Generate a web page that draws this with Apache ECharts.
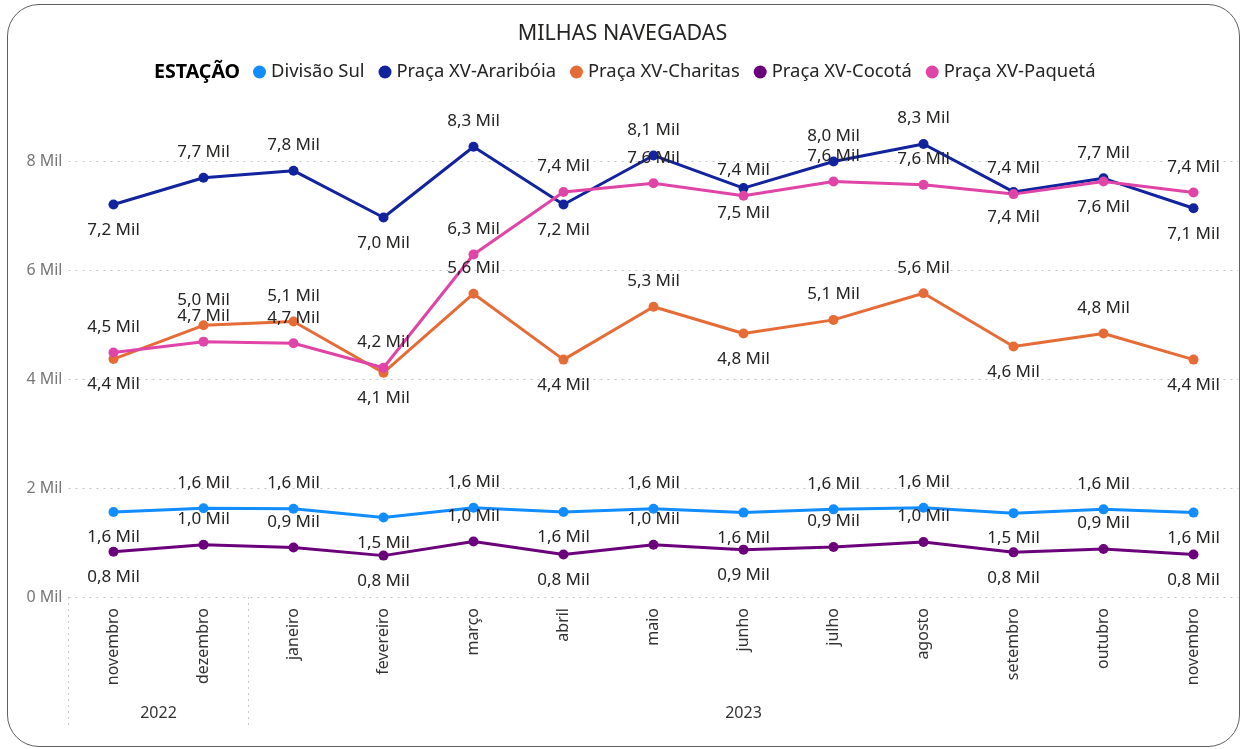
<!DOCTYPE html>
<html>
<head>
<meta charset="utf-8">
<script src="https://cdn.jsdelivr.net/npm/echarts@6/dist/echarts.min.js"></script>
<style>
  html, body { margin: 0; padding: 0; background: #fff; }
  #chart { position: absolute; left: 0; top: 0; width: 1245px; height: 749px; }
  #frame {
    position: absolute; left: 7px; top: 4px; width: 1233px; height: 743px;
    box-sizing: border-box; border: 1.5px solid #5f5f5f; border-radius: 32px; pointer-events: none;
  }
</style>
</head>
<body>
<div id="chart"></div>
<div id="frame"></div>
<script>
const MONTHS = ["novembro", "dezembro", "janeiro", "fevereiro", "março", "abril", "maio",
  "junho", "julho", "agosto", "setembro", "outubro", "novembro"];

// year band: 27 half-steps from the left edge to the right edge of the month axis
const YEAR_LABELS = ["", "", "2022", "", "", "", "", "", "", "", "", "", "", "", "", "2023",
  "", "", "", "", "", "", "", "", "", "", ""];
const YEAR_BREAKS = [0, 4];

const Y_TICKS = [0, 2, 4, 6, 8];

const DIVISAO_SUL = [1.56, 1.63, 1.62, 1.46, 1.64, 1.56, 1.62, 1.55, 1.61, 1.64, 1.54, 1.61, 1.55];
const ARARIBOIA = [7.21, 7.70, 7.83, 6.97, 8.27, 7.21, 8.11, 7.51, 8.00, 8.32, 7.44, 7.69, 7.14];
const CHARITAS = [4.37, 4.99, 5.06, 4.12, 5.57, 4.36, 5.33, 4.84, 5.09, 5.58, 4.60, 4.84, 4.36];
const COCOTA = [0.83, 0.96, 0.91, 0.76, 1.02, 0.78, 0.96, 0.87, 0.92, 1.01, 0.82, 0.88, 0.78];
const PAQUETA = [4.49, 4.69, 4.66, 4.21, 6.29, 7.44, 7.60, 7.37, 7.63, 7.57, 7.40, 7.63, 7.43];

// which side of the point each data label sits on (t = above, b = below)
const SIDE_COMMON = ["b", "t", "t", "b", "t", "b", "t", "b", "t", "t", "b", "t", "b"];
const SIDE_PAQUETA = ["t", "t", "t", "t", "t", "t", "t", "t", "t", "t", "t", "b", "t"];

const STATIONS = [
  { name: "Divisão Sul", values: DIVISAO_SUL, side: SIDE_COMMON, color: "#118DFF" },
  { name: "Praça XV-Araribóia", values: ARARIBOIA, side: SIDE_COMMON, color: "#12239E" },
  { name: "Praça XV-Charitas", values: CHARITAS, side: SIDE_COMMON, color: "#E66C37" },
  { name: "Praça XV-Cocotá", values: COCOTA, side: SIDE_COMMON, color: "#6B007B" },
  { name: "Praça XV-Paquetá", values: PAQUETA, side: SIDE_PAQUETA, color: "#E044A7" }
];

const FONT = "Noto Sans";

function fmtMil(v) {
  return v.toFixed(1).replace(".", ",") + " Mil";
}

const chart = echarts.init(document.getElementById("chart"), null, { renderer: "canvas" });

const series = STATIONS.map(st => ({
  name: st.name,
  type: "line",
  symbol: "circle",
  symbolSize: 10,
  color: st.color,
  lineStyle: { width: 3, color: st.color },
  itemStyle: { color: st.color },
  data: st.values.map((v, i) => ({
    value: v,
    label: { position: st.side[i] === "t" ? "top" : "bottom" }
  })),
  label: {
    show: true,
    distance: 12,
    fontFamily: FONT,
    fontSize: 17,
    color: "#252423",
    formatter: p => fmtMil(p.value)
  },
  labelLayout: { hideOverlap: false },
  emphasis: { disabled: true },
  animation: false
}));

const gridColors = Y_TICKS.map(() => "#c4c4c4").concat(["rgba(0,0,0,0)"]);

const option = {
  backgroundColor: "#ffffff",
  animation: false,
  title: [
    {
      text: "MILHAS NAVEGADAS",
      left: "center",
      top: 18,
      textStyle: { fontFamily: FONT, fontSize: 21.5, fontWeight: "normal", color: "#252423" }
    },
    {
      text: "ESTAÇÃO",
      left: 149,
      top: 57,
      textStyle: { fontFamily: FONT, fontSize: 19.6, fontWeight: "bold", color: "#000000" }
    }
  ],
  legend: {
    left: 253,
    top: 63,
    padding: 0,
    icon: "circle",
    itemWidth: 13,
    itemHeight: 13,
    itemGap: 14,
    textStyle: { fontFamily: FONT, fontSize: 18.4, color: "#252423" },
    data: STATIONS.map(s => s.name)
  },
  grid: { left: 68.5, right: 6.5, top: 107, bottom: 152, containLabel: false },
  xAxis: [
    {
      type: "category",
      data: MONTHS,
      boundaryGap: true,
      axisLine: { show: false },
      axisTick: { show: false },
      axisLabel: {
        interval: 0,
        rotate: 90,
        margin: 11,
        fontFamily: FONT,
        fontSize: 16,
        color: "#333333"
      }
    },
    {
      type: "category",
      data: YEAR_LABELS,
      position: "bottom",
      boundaryGap: false,
      axisLine: { show: false },
      axisTick: {
        show: true,
        inside: false,
        length: 130,
        interval: idx => YEAR_BREAKS.includes(idx),
        lineStyle: { color: "#c8c8c8", width: 1, type: [2, 4] }
      },
      axisLabel: {
        interval: 0,
        margin: 108,
        fontFamily: FONT,
        fontSize: 16,
        color: "#333333"
      }
    }
  ],
  yAxis: {
    type: "value",
    min: 0,
    max: 9,
    interval: 2,
    axisLine: { show: false },
    axisTick: { show: false },
    axisLabel: {
      margin: 6,
      fontFamily: FONT,
      fontSize: 16,
      color: "#777777",
      showMaxLabel: false,
      formatter: v => (Y_TICKS.includes(v) ? v + " Mil" : "")
    },
    splitLine: {
      show: true,
      lineStyle: { color: gridColors, width: 1, type: [2, 5] }
    }
  },
  series: series
};

chart.setOption(option);
window.addEventListener("resize", () => chart.resize());
</script>
</body>
</html>
